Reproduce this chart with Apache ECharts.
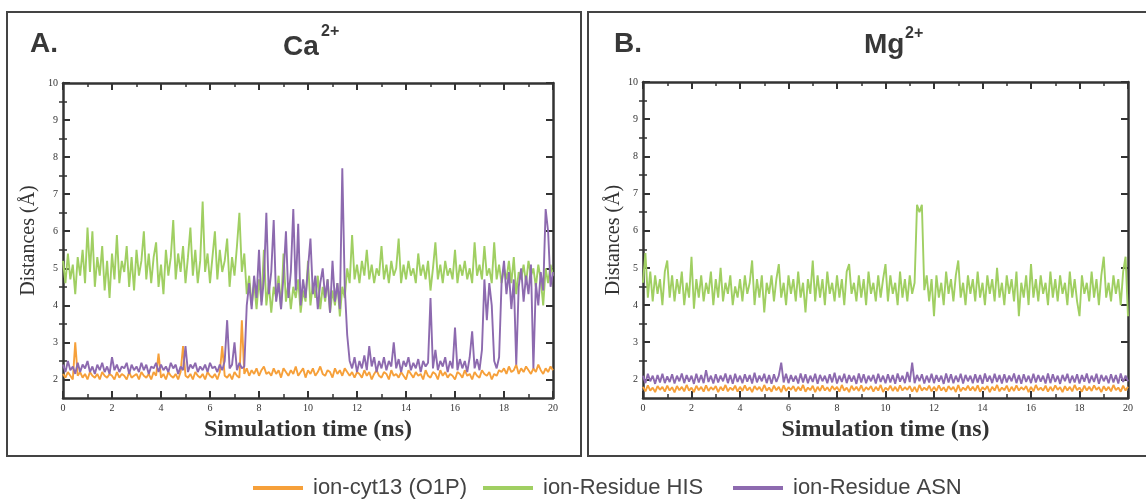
<!DOCTYPE html>
<html>
<head>
<meta charset="utf-8">
<title>Ion distances</title>
<script src="https://cdn.jsdelivr.net/npm/echarts@6/dist/echarts.min.js"></script>
<style>
  html, body { margin: 0; padding: 0; background: #fff; }
  #chart { width: 1146px; height: 500px; }
</style>
</head>
<body>
<div id="chart"></div>
<script>
// sampling grid of the trajectories (ns)
const timeNs = [
  0, 0.1, 0.2, 0.3, 0.4, 0.5, 0.6, 0.7, 0.8, 0.9,
  1, 1.1, 1.2, 1.3, 1.4, 1.5, 1.6, 1.7, 1.8, 1.9,
  2, 2.1, 2.2, 2.3, 2.4, 2.5, 2.6, 2.7, 2.8, 2.9,
  3, 3.1, 3.2, 3.3, 3.4, 3.5, 3.6, 3.7, 3.8, 3.9,
  4, 4.1, 4.2, 4.3, 4.4, 4.5, 4.6, 4.7, 4.8, 4.9,
  5, 5.1, 5.2, 5.3, 5.4, 5.5, 5.6, 5.7, 5.8, 5.9,
  6, 6.1, 6.2, 6.3, 6.4, 6.5, 6.6, 6.7, 6.8, 6.9,
  7, 7.1, 7.2, 7.3, 7.4, 7.5, 7.6, 7.7, 7.8, 7.9,
  8, 8.1, 8.2, 8.3, 8.4, 8.5, 8.6, 8.7, 8.8, 8.9,
  9, 9.1, 9.2, 9.3, 9.4, 9.5, 9.6, 9.7, 9.8, 9.9,
  10, 10.1, 10.2, 10.3, 10.4, 10.5, 10.6, 10.7, 10.8, 10.9,
  11, 11.1, 11.2, 11.3, 11.4, 11.5, 11.6, 11.7, 11.8, 11.9,
  12, 12.1, 12.2, 12.3, 12.4, 12.5, 12.6, 12.7, 12.8, 12.9,
  13, 13.1, 13.2, 13.3, 13.4, 13.5, 13.6, 13.7, 13.8, 13.9,
  14, 14.1, 14.2, 14.3, 14.4, 14.5, 14.6, 14.7, 14.8, 14.9,
  15, 15.1, 15.2, 15.3, 15.4, 15.5, 15.6, 15.7, 15.8, 15.9,
  16, 16.1, 16.2, 16.3, 16.4, 16.5, 16.6, 16.7, 16.8, 16.9,
  17, 17.1, 17.2, 17.3, 17.4, 17.5, 17.6, 17.7, 17.8, 17.9,
  18, 18.1, 18.2, 18.3, 18.4, 18.5, 18.6, 18.7, 18.8, 18.9,
  19, 19.1, 19.2, 19.3, 19.4, 19.5, 19.6, 19.7, 19.8, 19.9,
  20
];

// Panel A: Ca2+
const caO1P = [
  2.15, 2.05, 2.2, 2.1, 2.0, 3.0, 2.1, 2.2, 2.05, 2.15,
  2.0, 2.2, 2.1, 2.05, 2.15, 2.0, 2.2, 2.1, 2.05, 2.15,
  2.1, 2.0, 2.2, 2.05, 2.15, 2.1, 2.0, 2.2, 2.05, 2.1,
  2.15, 2.0, 2.2, 2.1, 2.05, 2.15, 2.0, 2.2, 2.1, 2.7,
  2.05, 2.15, 2.0, 2.2, 2.1, 2.05, 2.15, 2.0, 2.2, 2.9,
  2.1, 2.05, 2.15, 2.0, 2.2, 2.1, 2.05, 2.15, 2.0, 2.2,
  2.1, 2.05, 2.15, 2.0, 2.2, 2.9, 2.1, 2.05, 2.15, 2.0,
  2.2, 2.1, 2.05, 3.6, 2.15, 2.3, 2.1, 2.25, 2.15, 2.3,
  2.1, 2.25, 2.35, 2.15, 2.2, 2.1, 2.3, 2.15, 2.25, 2.05,
  2.3, 2.2, 2.1, 2.25, 2.15, 2.35, 2.1, 2.2, 2.3, 2.05,
  2.25, 2.15, 2.3, 2.1, 2.2, 2.35, 2.15, 2.1, 2.25, 2.2,
  2.05, 2.3, 2.15, 2.25, 2.1, 2.3, 2.2, 2.1, 2.2, 2.05,
  2.2, 2.15, 2.05, 2.25, 2.1, 2.2, 2.0, 2.15, 2.25, 2.1,
  2.05, 2.2, 2.15, 2.0, 2.25, 2.1, 2.15, 2.05, 2.2, 2.1,
  2.0, 2.25, 2.15, 2.05, 2.2, 2.1, 2.15, 2.0, 2.25, 2.1,
  2.05, 2.2, 2.15, 2.0, 2.25, 2.1, 2.2, 2.05, 2.15, 2.1,
  2.0, 2.2, 2.15, 2.05, 2.25, 2.1, 2.15, 2.0, 2.2, 2.1,
  2.05, 2.25, 2.15, 2.1, 2.2, 2.0, 2.15, 2.1, 2.25, 2.2,
  2.3, 2.15, 2.35, 2.2, 2.25, 2.4, 2.15, 2.3, 2.2, 2.35,
  2.25, 2.15, 2.3, 2.2, 2.4, 2.25, 2.15, 2.3, 2.2, 2.35,
  2.25
];
const caHIS = [
  5.2, 4.6, 5.4, 4.7, 5.1, 4.3, 5.3, 4.8, 5.5, 4.6,
  6.1, 4.9, 6.0, 4.5, 5.3, 4.8, 5.6, 4.4, 5.2, 4.2,
  5.4, 4.7, 5.9, 4.6, 5.2, 4.9, 5.6, 4.5, 5.3, 4.4,
  5.5, 4.8, 5.2, 6.0, 4.7, 5.4, 4.6, 5.3, 5.7, 4.5,
  5.1, 4.3, 5.5, 4.8, 5.3, 6.3, 4.7, 5.4, 4.9, 5.6,
  4.6, 5.3, 6.1, 4.8, 5.5, 4.6, 5.2, 6.8, 4.9, 5.4,
  4.6, 5.3, 6.0, 4.7, 5.5, 4.9, 5.2, 5.8, 4.5, 5.3,
  4.8, 5.6, 6.5, 4.9, 5.4, 4.3, 4.8, 4.0, 4.6, 3.9,
  4.7, 4.1, 5.5, 4.0, 4.6, 3.8, 4.5, 4.2, 4.8, 3.9,
  5.4, 4.1, 4.6, 3.9, 4.5, 4.2, 4.7, 3.8, 4.4, 4.1,
  5.2, 4.0, 4.6, 4.2, 4.8, 3.9, 4.5, 4.1, 4.7, 3.8,
  4.4, 4.0, 4.6, 3.7, 4.5, 4.2, 5.0, 4.6, 5.9, 4.7,
  5.1, 4.6, 5.2, 4.8, 5.5, 4.7, 5.1, 4.6, 5.0, 4.8,
  5.6, 4.7, 5.1, 4.6, 5.2, 4.8, 5.0, 5.8, 4.6, 5.1,
  4.7, 5.2, 4.8, 5.0, 4.6, 5.4, 4.8, 5.1, 4.7, 5.2,
  4.4, 5.0, 5.7, 4.7, 5.1, 4.6, 5.2, 4.8, 5.0, 4.7,
  5.5, 4.6, 5.1, 4.8, 5.2, 4.7, 5.0, 4.6, 5.7, 4.8,
  5.1, 4.7, 5.6, 4.8, 5.0, 4.6, 5.7, 4.7, 5.1, 4.6,
  5.0, 4.7, 5.2, 4.6, 5.3, 4.3, 4.9, 4.7, 5.1, 4.6,
  5.2, 4.8, 5.0, 4.5, 5.1, 4.7, 4.0, 5.0, 4.6, 5.1,
  4.8
];
const caASN = [
  2.4, 2.2, 2.5, 2.25, 2.35, 2.15, 2.45, 2.2, 2.4, 2.3,
  2.5, 2.2, 2.35, 2.15, 2.4, 2.25, 2.45, 2.2, 2.35, 2.15,
  2.6, 2.25, 2.4, 2.2, 2.35, 2.3, 2.45, 2.15, 2.4, 2.25,
  2.35, 2.2, 2.45, 2.25, 2.4, 2.15, 2.35, 2.3, 2.45, 2.2,
  2.4, 2.25, 2.35, 2.2, 2.45, 2.3, 2.4, 2.15, 2.35, 2.25,
  2.9, 2.2, 2.4, 2.3, 2.45, 2.2, 2.35, 2.25, 2.4, 2.2,
  2.45, 2.3, 2.35, 2.2, 2.4, 2.25, 2.5, 3.6, 2.3, 2.4,
  3.0, 2.25, 2.45, 2.3, 2.35, 4.0, 4.6, 3.9, 4.8, 4.2,
  5.5, 4.0, 4.7, 6.5, 4.3, 4.9, 6.3, 4.1, 4.6, 3.9,
  4.8, 6.0, 4.2, 4.9, 6.6, 4.4, 6.2, 4.0, 4.7, 4.2,
  5.0, 5.8, 4.3, 4.8, 3.9, 4.6, 5.0, 4.2, 4.7, 3.8,
  5.2, 4.1, 4.6, 3.9, 7.7, 4.5, 3.2, 2.5, 2.3, 2.6,
  2.2, 2.5, 2.3, 2.65, 2.25, 2.9, 2.35, 2.6, 2.2, 2.5,
  2.3, 2.6, 2.25, 2.5, 2.35, 3.0, 2.3, 2.55, 2.2, 2.5,
  2.35, 2.6, 2.25, 2.45, 2.3, 2.55, 2.2, 2.5, 2.35, 2.45,
  4.2, 2.3, 2.8, 2.25, 2.5, 2.35, 2.6, 2.2, 2.5, 2.3,
  3.4, 2.25, 2.55, 2.3, 2.5, 2.2, 2.6, 3.3, 2.3, 2.55,
  2.25, 2.8, 4.7, 3.6, 4.6, 4.0, 2.5, 2.3, 2.6, 4.6,
  5.2, 4.3, 4.9, 3.9, 4.7, 2.4, 4.5, 5.0, 4.1, 4.8,
  4.3, 5.1, 2.3, 4.6, 4.0, 4.9, 4.4, 6.6, 6.0, 4.5,
  4.9
];

// Panel B: Mg2+
const mgO1P = [
  1.8, 1.68, 1.84, 1.7, 1.78, 1.66, 1.82, 1.72, 1.8, 1.67,
  1.83, 1.7, 1.79, 1.65, 1.82, 1.71, 1.8, 1.68, 1.85, 1.7,
  1.78, 1.66, 1.83, 1.71, 1.8, 1.67, 1.84, 1.69, 1.79, 1.72,
  1.82, 1.66, 1.8, 1.7, 1.85, 1.68, 1.78, 1.71, 1.83, 1.67,
  1.8, 1.69, 1.84, 1.7, 1.79, 1.66, 1.82, 1.72, 1.8, 1.68,
  1.85, 1.7, 1.78, 1.67, 1.83, 1.71, 1.8, 1.66, 1.84, 1.69,
  1.79, 1.72, 1.82, 1.68, 1.8, 1.7, 1.85, 1.67, 1.78, 1.71,
  1.83, 1.66, 1.8, 1.69, 1.84, 1.7, 1.79, 1.68, 1.82, 1.72,
  1.8, 1.67, 1.85, 1.7, 1.78, 1.66, 1.83, 1.71, 1.8, 1.69,
  1.84, 1.68, 1.79, 1.72, 1.82, 1.67, 1.8, 1.7, 1.85, 1.66,
  1.78, 1.71, 1.83, 1.69, 1.8, 1.68, 1.84, 1.7, 1.79, 1.72,
  1.82, 1.67, 1.8, 1.66, 1.85, 1.7, 1.78, 1.71, 1.83, 1.68,
  1.8, 1.69, 1.84, 1.7, 1.79, 1.67, 1.82, 1.72, 1.8, 1.66,
  1.85, 1.68, 1.78, 1.71, 1.83, 1.7, 1.8, 1.69, 1.84, 1.67,
  1.79, 1.72, 1.82, 1.66, 1.8, 1.7, 1.85, 1.68, 1.78, 1.71,
  1.83, 1.67, 1.8, 1.69, 1.84, 1.7, 1.79, 1.72, 1.82, 1.66,
  1.8, 1.68, 1.85, 1.71, 1.78, 1.7, 1.83, 1.67, 1.8, 1.69,
  1.84, 1.72, 1.79, 1.66, 1.82, 1.7, 1.8, 1.68, 1.85, 1.71,
  1.78, 1.67, 1.83, 1.7, 1.8, 1.69, 1.84, 1.72, 1.79, 1.66,
  1.82, 1.7, 1.8, 1.68, 1.85, 1.71, 1.78, 1.67, 1.83, 1.7,
  1.8
];
const mgHIS = [
  4.6, 5.4, 4.2, 4.9, 4.1, 4.8, 4.3, 4.7, 4.0, 4.9,
  5.2, 4.2, 4.8, 4.1, 4.7, 4.3, 4.9, 4.0, 4.6, 4.2,
  5.3, 3.9, 4.7, 4.2, 4.8, 4.1, 4.6, 4.3, 4.9, 4.0,
  4.7, 4.2, 5.0, 4.1, 4.6, 4.3, 4.8, 4.0, 4.5, 4.2,
  4.7, 4.1, 4.8, 4.3, 4.6, 5.2, 4.0, 4.7, 4.2, 4.8,
  3.8, 4.6, 4.3, 4.8, 4.1, 4.7, 5.1, 4.2, 4.6, 4.0,
  4.8, 4.3, 4.7, 4.1, 4.9, 4.2, 4.6, 3.8, 4.7, 4.3,
  5.2, 4.1, 4.8, 4.2, 4.7, 4.0, 4.9, 4.3, 4.6, 4.1,
  4.8, 4.2, 4.7, 4.0, 4.9, 5.1, 4.3, 4.6, 4.1, 4.8,
  4.2, 4.7, 4.0, 4.9, 4.3, 4.6, 4.1, 4.8, 4.2, 4.7,
  5.1, 4.1, 4.8, 4.3, 4.6, 4.0, 4.9, 4.2, 4.7, 4.1,
  4.8, 4.3, 4.6, 6.7, 6.5, 6.7, 4.4, 4.8, 4.1, 4.7,
  3.7, 4.8, 4.2, 4.6, 4.0, 4.9, 4.3, 4.7, 4.1, 4.8,
  5.2, 4.2, 4.6, 4.0, 4.8, 4.3, 4.7, 4.1, 4.9, 4.2,
  4.6, 4.0, 4.8, 4.3, 4.7, 4.1, 5.0, 4.2, 4.6, 4.0,
  4.8, 4.3, 4.7, 4.1, 4.9, 3.7, 4.6, 4.2, 4.8, 4.0,
  5.1, 4.2, 4.7, 4.1, 4.8, 4.3, 4.6, 4.0, 4.9, 4.2,
  4.7, 4.1, 4.8, 4.3, 4.6, 4.0, 4.9, 4.2, 4.7, 4.1,
  3.7, 4.8, 4.3, 4.6, 4.1, 4.9, 4.2, 4.7, 4.0, 4.8,
  5.3, 4.2, 4.6, 4.1, 4.8, 4.3, 4.7, 4.0, 4.9, 5.3,
  3.7
];
const mgASN = [
  2.1, 1.9, 2.15, 1.95, 2.1, 1.88, 2.12, 1.92, 2.15, 1.9,
  2.08, 1.93, 2.14, 1.89, 2.1, 1.95, 2.16, 1.9, 2.12, 1.94,
  2.1, 1.88, 2.15, 1.92, 2.12, 1.9, 2.25, 1.93, 2.1, 1.89,
  2.14, 1.92, 2.1, 1.95, 2.16, 1.9, 2.12, 1.88, 2.15, 1.93,
  2.1, 1.9, 2.14, 1.94, 2.12, 1.89, 2.18, 1.92, 2.1, 1.95,
  2.15, 1.9, 2.12, 1.88, 2.14, 1.93, 2.1, 2.45, 1.92, 2.15,
  1.9, 2.12, 1.94, 2.1, 1.89, 2.16, 1.92, 2.14, 1.9, 2.1,
  1.93, 2.15, 1.88, 2.12, 1.95, 2.1, 1.9, 2.14, 1.92, 2.18,
  1.89, 2.1, 1.93, 2.15, 1.9, 2.12, 1.94, 2.1, 1.88, 2.16,
  1.92, 2.14, 1.9, 2.1, 1.95, 2.12, 1.89, 2.15, 1.93, 2.1,
  1.9, 2.14, 1.92, 2.12, 1.88, 2.16, 1.94, 2.1, 1.9, 2.2,
  1.93, 2.45, 1.9, 2.12, 1.95, 2.14, 1.89, 2.1, 1.92, 2.15,
  1.9, 2.12, 1.94, 2.1, 1.88, 2.16, 1.92, 2.14, 1.9, 2.1,
  1.93, 2.15, 1.89, 2.12, 1.95, 2.1, 1.9, 2.14, 1.92, 2.12,
  1.88, 2.16, 1.94, 2.1, 1.9, 2.15, 1.93, 2.12, 1.89, 2.14,
  1.92, 2.1, 1.95, 2.16, 1.9, 2.12, 1.88, 2.14, 1.93, 2.1,
  1.9, 2.15, 1.92, 2.12, 1.94, 2.1, 1.89, 2.16, 1.9, 2.14,
  1.93, 2.1, 1.88, 2.12, 1.95, 2.15, 1.9, 2.1, 1.92, 2.14,
  1.89, 2.12, 1.94, 2.16, 1.9, 2.1, 1.93, 2.15, 1.88, 2.12,
  1.95, 2.1, 1.9, 2.14, 1.92, 2.12, 1.89, 2.16, 1.93, 2.1,
  1.95
];

const seriesNames = ['ion-cyt13 (O1P)', 'ion-Residue HIS', 'ion-Residue ASN'];
const seriesColors = ['#f6a03a', '#a0cf62', '#8d6aaf'];
const yMajorTicks = [2, 3, 4, 5, 6, 7, 8, 9, 10];
const yMinorTicks = [2.5, 3.5, 4.5, 5.5, 6.5, 7.5, 8.5, 9.5];

const axisColor = '#333';
const tickFont = { fontFamily: 'Liberation Serif', fontSize: 10, color: '#333' };

function makeXAxes(gridIndex) {
  const common = {
    gridIndex: gridIndex,
    type: 'value',
    min: 0,
    max: 20,
    interval: 2,
    axisLine: { onZero: false, lineStyle: { color: axisColor, width: 2.5 } },
    axisTick: { inside: true, length: 7, lineStyle: { color: axisColor, width: 2 } },
    minorTick: { show: true, splitNumber: 2, length: 4, lineStyle: { color: axisColor, width: 1.5 } },
    splitLine: { show: false }
  };
  return [
    Object.assign({}, common, {
      position: 'bottom',
      name: 'Simulation time (ns)',
      nameLocation: 'middle',
      nameGap: 17,
      nameTextStyle: { fontFamily: 'Liberation Serif', fontWeight: 'bold', fontSize: 24, color: '#333' },
      axisLabel: Object.assign({ margin: 5 }, tickFont)
    }),
    Object.assign({}, common, { position: 'top', axisLabel: { show: false } })
  ];
}

function makeYAxes(gridIndex, nameGap) {
  const line = { onZero: false, lineStyle: { color: axisColor, width: 2.5 } };
  const base = { gridIndex: gridIndex, type: 'value', min: 1.5, max: 10, splitLine: { show: false } };
  const major = {
    axisTick: { inside: true, length: 7, customValues: yMajorTicks, lineStyle: { color: axisColor, width: 2 } }
  };
  const minor = {
    axisLine: { show: false },
    axisTick: { inside: true, length: 4, customValues: yMinorTicks, lineStyle: { color: axisColor, width: 1.5 } },
    axisLabel: { show: false }
  };
  return [
    Object.assign({}, base, major, {
      position: 'left',
      name: 'Distances (Å)',
      nameLocation: 'middle',
      nameRotate: 90,
      nameGap: nameGap,
      nameTextStyle: { fontFamily: 'Liberation Serif', fontSize: 20, color: '#333' },
      axisLine: line,
      axisLabel: Object.assign({ margin: 5, customValues: yMajorTicks }, tickFont)
    }),
    Object.assign({}, base, minor, { position: 'left' }),
    Object.assign({}, base, major, { position: 'right', axisLine: line, axisLabel: { show: false } }),
    Object.assign({}, base, minor, { position: 'right' })
  ];
}

function makeSeries(values, k, xIdx, yIdx) {
  return {
    name: seriesNames[k],
    type: 'line',
    xAxisIndex: xIdx,
    yAxisIndex: yIdx,
    showSymbol: false,
    symbol: 'none',
    silent: true,
    data: timeNs.map((t, i) => [t, values[i]]),
    lineStyle: { color: seriesColors[k], width: 1.9 },
    itemStyle: { color: seriesColors[k] }
  };
}

function makeLegend(k, left) {
  return {
    data: [seriesNames[k]],
    left: left,
    top: 472,
    icon: 'rect',
    itemWidth: 50,
    itemHeight: 4,
    selectedMode: false,
    textStyle: { fontFamily: 'Liberation Sans', fontSize: 22, color: '#444', padding: [0, 0, 0, 5] }
  };
}

const titleFont = 'bold 28px "Liberation Sans"';
const supFont = 'bold 16px "Liberation Sans"';
const titleColor = '#383838';

const chart = echarts.init(document.getElementById('chart'), null, { renderer: 'canvas' });

const option = {
  animation: false,
  backgroundColor: '#fff',
  grid: [
    { left: 63, top: 83, width: 490, height: 315 },
    { left: 643, top: 82, width: 485, height: 316 }
  ],
  xAxis: makeXAxes(0).concat(makeXAxes(1)),
  yAxis: makeYAxes(0, 24).concat(makeYAxes(1, 19)),
  legend: [makeLegend(0, 248), makeLegend(1, 478), makeLegend(2, 728)],
  graphic: [
    { type: 'rect', shape: { x: 7, y: 12, width: 574, height: 444 }, style: { fill: 'none', stroke: '#444', lineWidth: 2 } },
    { type: 'rect', shape: { x: 588, y: 12, width: 570, height: 444 }, style: { fill: 'none', stroke: '#444', lineWidth: 2 } },
    { type: 'text', x: 30, y: 44, style: { text: 'A.', font: titleFont, fill: titleColor, textVerticalAlign: 'middle' } },
    { type: 'text', x: 283, y: 47, style: { text: 'Ca', font: titleFont, fill: titleColor, textVerticalAlign: 'middle' } },
    { type: 'text', x: 321, y: 32, style: { text: '2+', font: supFont, fill: titleColor, textVerticalAlign: 'middle' } },
    { type: 'text', x: 614, y: 44, style: { text: 'B.', font: titleFont, fill: titleColor, textVerticalAlign: 'middle' } },
    { type: 'text', x: 864, y: 45, style: { text: 'Mg', font: titleFont, fill: titleColor, textVerticalAlign: 'middle' } },
    { type: 'text', x: 905, y: 34, style: { text: '2+', font: supFont, fill: titleColor, textVerticalAlign: 'middle' } }
  ],
  series: [
    makeSeries(caHIS, 1, 0, 0),
    makeSeries(caO1P, 0, 0, 0),
    makeSeries(caASN, 2, 0, 0),
    makeSeries(mgHIS, 1, 2, 4),
    makeSeries(mgO1P, 0, 2, 4),
    makeSeries(mgASN, 2, 2, 4)
  ]
};

chart.setOption(option);
window.addEventListener('resize', () => chart.resize());
</script>
</body>
</html>
